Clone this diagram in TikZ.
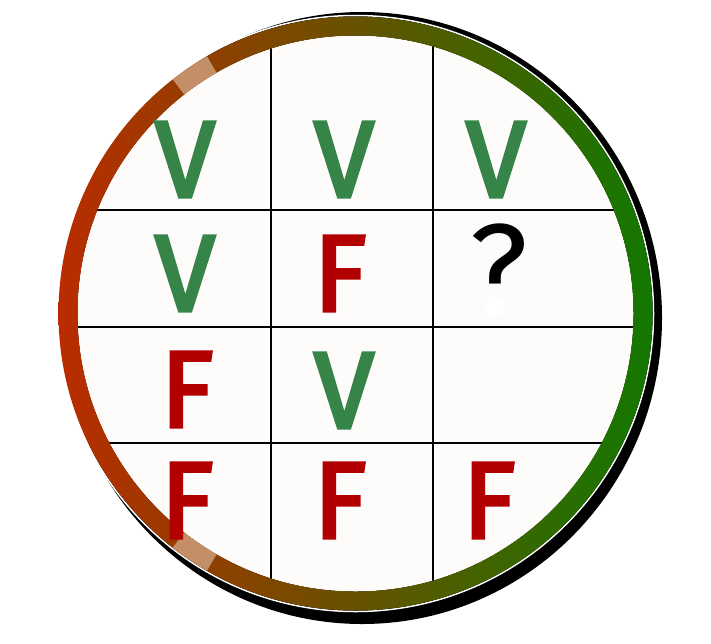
\documentclass[tikz,border=0pt]{standalone}
\usepackage{fontspec}
\setmainfont{Fira Sans}
\newfontfamily\markfont{Fira Sans}[FakeBold=3]

\definecolor{ringred}{RGB}{186,44,0}
\definecolor{ringgreen}{RGB}{18,120,0}
\definecolor{vgreen}{RGB}{54,132,72}
\definecolor{fred}{RGB}{178,0,0}
\definecolor{paper}{RGB}{254,251,251}
\definecolor{glitch}{RGB}{212,170,140}

\tikzset{
  vmark/.style={text=vgreen, font=\fontsize{109}{109}\selectfont\markfont, anchor=base, inner sep=0pt},
  fmark/.style={vmark, text=fred},
  qmark/.style={text=black, font=\fontsize{128}{128}\selectfont, anchor=base, inner sep=0pt}
}

\begin{document}
\begin{tikzpicture}[x=1pt,y=-1pt,line width=2pt]

  \def\cx{355.5} \def\cy{313.5} \def\ro{297pt} \def\ri{278pt}

  \useasboundingbox (0,0) rectangle (711,643);

  % Shadow and face
  \fill[black] (362,318) ellipse [x radius=300pt, y radius=306pt];
  \fill[paper] (\cx,\cy) circle (\ri);

  % Grid
  \begin{scope}
    \clip (\cx,\cy) circle (280pt);
    \draw (271,0) -- (271,643) (433,0) -- (433,643);
    \draw (0,210) -- (711,210) (0,327) -- (711,327) (0,443) -- (711,443);
  \end{scope}

  % Ring
  \draw[white, line width=1.5pt] (\cx,\cy) circle (298pt);
  \shade[left color=ringred, right color=ringgreen, even odd rule] (\cx,\cy) circle (\ro) (\cx,\cy) circle (\ri);
  \draw[glitch, opacity=.75, line width=19pt] ([shift={(\cx,\cy)}]120:287.5pt) arc[start angle=120, end angle=128, radius=287.5pt];
  \draw[glitch, opacity=.75, line width=19pt] ([shift={(\cx,\cy)}]232:287.5pt) arc[start angle=232, end angle=240, radius=287.5pt];

  % Labels
  \node[vmark] (v11) at (185,197) {V};
  \node[vmark] (v12) at (344,197) {V};
  \node[vmark] (v13) at (496,197) {V};
  \node[vmark] (v21) at (185,311) {V};
  \node[fmark] (f22) at (340,311) {F};
  \node[qmark] (q23) at (499,313) {?};
  \fill[white] (495,306) circle (10pt);
  \node[fmark] (f31) at (187,427) {F};
  \node[vmark] (v32) at (344,428) {V};
  \node[fmark] (f41) at (187,538) {F};
  \node[fmark] (f42) at (340,538) {F};
  \node[fmark] (f43) at (489,538) {F};

\end{tikzpicture}
\end{document}
